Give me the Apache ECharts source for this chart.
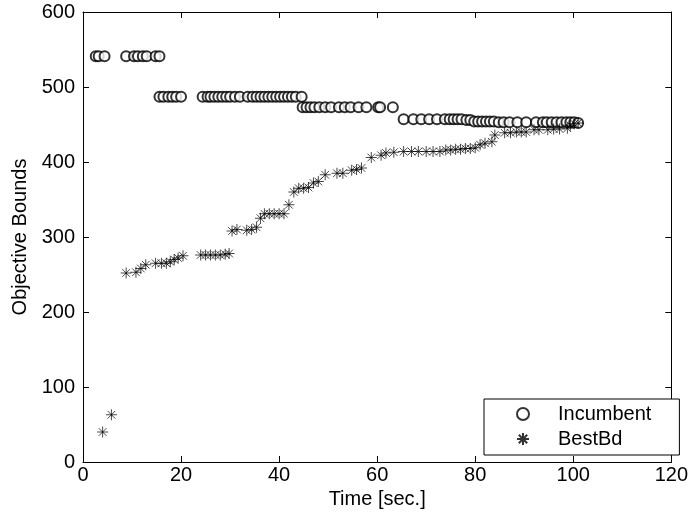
<!DOCTYPE html>
<html>
<head>
<meta charset="utf-8">
<script src="https://cdn.jsdelivr.net/npm/echarts@6/dist/echarts.min.js"></script>
<style>html,body{margin:0;padding:0;background:#fff}#c{width:691px;height:526px}</style>
</head>
<body>
<div id="c"></div>
<script>
// Incumbent
var incT = [2.6,3.2,4.4,8.8,10.4,11.2,12.2,13,14.8,15.6,
  15.6,16.4,17.4,18.2,19,20,
  24.4,25.4,26,26.8,27.6,28.4,29.2,30,31,32,33.6,34.6,35.4,36.2,37,37.8,38.6,39.4,40.2,41,41.8,42.6,43.4,44.6,
  44.8,45.6,46.4,47.2,48.2,49.4,50.6,52.2,53.4,54.6,56.2,57.8,60.2,60.6,63.2,
  65.4,67.4,69,70.6,72.2,73.8,74.8,75.6,76.4,77.2,78.2,79,79.8,80.6,81.4,82.2,83,83.8,84.8,85.8,87,88.6,90.4,92.4,93.8,94.6,95.6,96.6,97.6,98.6,99.4,100.2,101];
var incV = [541,541,541,541,541,541,541,541,541,541,
  487,487,487,487,487,487,
  487,487,487,487,487,487,487,487,487,487,487,487,487,487,487,487,487,487,487,487,487,487,487,487,
  473,473,473,473,473,473,473,473,473,473,473,473,473,473,473,
  457,457,457,457,457,457,457,457,457,457,456,456,454,454,454,454,454,454,453,453,453,453,453,453,453,453,453,453,453,453,453,453,452];
// BestBd
var bestT = [4,5.8,8.8,10.8,11.8,12.8,14.8,16,17,17.8,18.6,19.4,20.4,
  24,25,26,27,28,29,29.8,30.4,31.4,33.4,34.4,35.4,36.2,37,38,39,40,41,42,43,44,45,46,47,48,49.4,51.8,53,54.8,55.8,56.8,58.8,60.8,61.8,63.4,
  65.4,67,68.4,70,71.4,72.8,74,75,76,77,78,79,80,81,82,83.4,84,86,87.2,88.4,89.4,90.4,92,93,94.8,96,97.2,98.8,99.4,100.2,101];
var bestV = [40,63,252,253,258,263,265,265,265,267,270,272,275,
  276,276,276,276,276,277,278,308,310,309,310,313,325,331,331,331,331,331,343,360,365,365,366,372,374,383,385,385,389,390,392,406,409,412,413,
  414,414,414,414,414,414,416,416,417,417,418,418,419,423,425,427,436,439,439,440,440,440,443,443,443,444,444,445,449,451,452];
var xTicks = [0,20,40,60,80,100,120];
var yTicks = [0,100,200,300,400,500,600];

function pairs(a,b){var r=[];for(var i=0;i<a.length;i++)r.push([a[i],b[i]]);return r;}
var FONT = 'Liberation Sans';
var FS = 20;
function axisCommon(){return {
  axisLine:{show:true,onZero:false,lineStyle:{color:'#000',width:1}},
  axisTick:{show:true,inside:true,length:6,lineStyle:{color:'#000'}},
  splitLine:{show:false}
};}
var chart = echarts.init(document.getElementById('c'));
chart.setOption({
  animation:false,
  backgroundColor:'#fff',
  grid:{left:83,right:7,top:12,bottom:64},
  xAxis:[
    Object.assign({type:'value',min:xTicks[0],max:xTicks[xTicks.length-1],interval:20,position:'bottom',
      name:'Time [sec.]',nameLocation:'middle',nameGap:17,
      nameTextStyle:{fontFamily:FONT,fontSize:FS,color:'#000'},
      axisLabel:{fontFamily:FONT,fontSize:FS,color:'#000',margin:3}},axisCommon()),
    Object.assign({type:'value',min:xTicks[0],max:xTicks[xTicks.length-1],interval:20,position:'top',axisLabel:{show:false}},axisCommon())
  ],
  yAxis:[
    Object.assign({type:'value',min:yTicks[0],max:yTicks[yTicks.length-1],interval:100,position:'left',
      name:'Objective Bounds',nameLocation:'middle',nameGap:53,nameRotate:90,
      nameTextStyle:{fontFamily:FONT,fontSize:FS,color:'#000'},
      axisLabel:{fontFamily:FONT,fontSize:FS,color:'#000',margin:8}},axisCommon()),
    Object.assign({type:'value',min:yTicks[0],max:yTicks[yTicks.length-1],interval:100,position:'right',axisLabel:{show:false}},axisCommon())
  ],
  legend:{
    left:484, top:399, orient:'vertical',
    backgroundColor:'#fff', borderColor:'#000', borderWidth:1,
    padding:[5,28,6,32], itemGap:5, itemWidth:12, itemHeight:12,
    textStyle:{fontFamily:FONT,fontSize:FS,color:'#000',padding:[0,0,0,24]},
    data:['Incumbent','BestBd']
  },
  series:[
    {name:'Incumbent',type:'scatter',symbol:'emptyCircle',symbolSize:10,
     itemStyle:{color:'#000',borderColor:'#000',borderWidth:1},
     data:pairs(incT,incV)},
    {name:'BestBd',type:'scatter',
     symbol:'path://M5 0 L5 10 M0 5 L10 5 M1.5 1.5 L8.5 8.5 M1.5 8.5 L8.5 1.5',
     symbolSize:11,
     itemStyle:{color:'#000',borderColor:'#000',borderWidth:0.9},
     data:pairs(bestT,bestV)}
  ]
});
</script>
</body>
</html>
